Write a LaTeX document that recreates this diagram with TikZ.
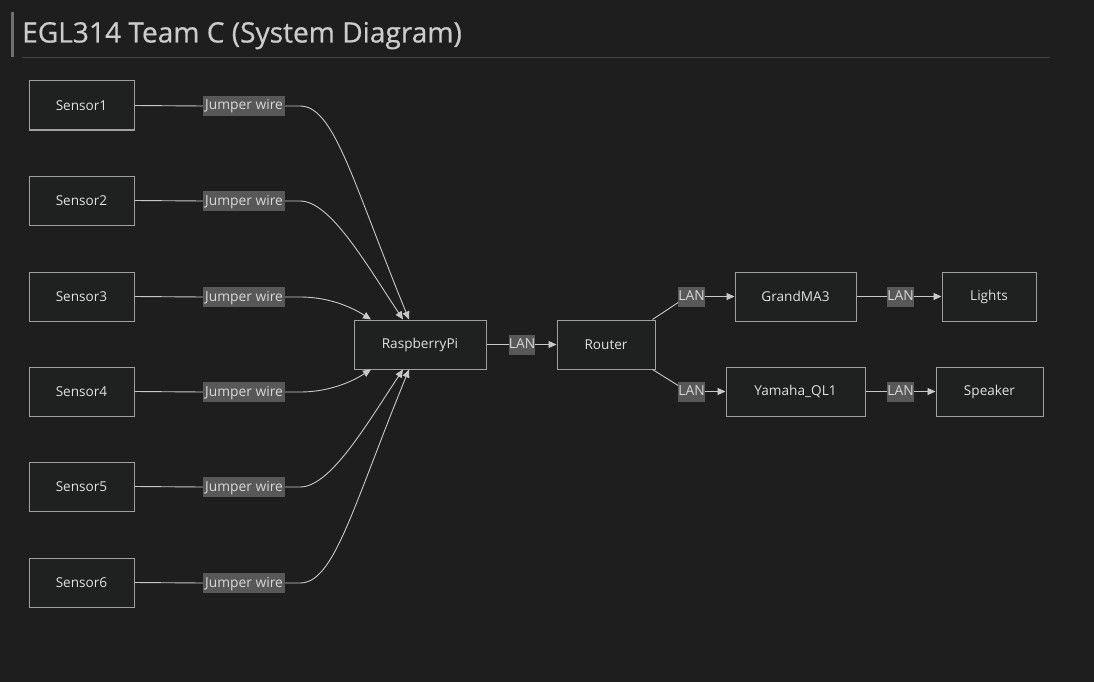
\documentclass[tikz,border=0pt]{standalone}
\usepackage{fontspec}
\setmainfont{Open Sans}
\newfontfamily\titlefont[FakeBold=0.6]{Open Sans}
\usetikzlibrary{arrows.meta,calc}
\definecolor{bg}{HTML}{1E1E1E}
\definecolor{nodefill}{HTML}{1F2020}
\definecolor{nodeborder}{HTML}{A0A0A0}
\definecolor{nodetext}{HTML}{E0E0E0}
\definecolor{lblfill}{HTML}{585858}
\definecolor{lbltext}{HTML}{D8D8D8}
\definecolor{edgecol}{HTML}{C8C8C8}
\definecolor{titlecol}{HTML}{CCCCCC}
\definecolor{barcol}{HTML}{707070}
\definecolor{rulecol}{HTML}{454545}
\begin{document}
\begin{tikzpicture}[x=1pt,y=-1pt,
  box/.style={draw=nodeborder, fill=nodefill, line width=1pt, inner sep=0pt,
    minimum height=49pt, text=nodetext, font=\fontsize{13.6}{15}\selectfont},
  lbl/.style={fill=lblfill, text=lbltext, inner sep=0pt, minimum height=20pt,
    text height=10pt, text depth=2pt, font=\fontsize{13.8}{15}\selectfont},
  edge/.style={draw=edgecol, line width=0.9pt},
  arr/.style={edge, -{Triangle[length=8pt,width=7pt]}}]
\fill[bg] (0,0) rectangle (1094,682);
\useasboundingbox (0,0) rectangle (1094,682);
% title
\fill[barcol] (10.5,12) rectangle (13.5,57);
\draw[rulecol, line width=1pt] (22,57.5) -- (1050,57.5);
\node[anchor=base west, inner sep=0pt, text=titlecol, font=\titlefont\fontsize{28.1}{32}\selectfont] (title) at (22,42.5) {EGL314 Team C (System Diagram)};
% nodes
\node[box, minimum width=105pt] (s1) at (81.5,105.5) {Sensor1};
\node[box, minimum width=105pt] (s2) at (81.5,200.5) {Sensor2};
\node[box, minimum width=105pt] (s3) at (81.5,296.5) {Sensor3};
\node[box, minimum width=105pt] (s4) at (81.5,391.5) {Sensor4};
\node[box, minimum width=105pt] (s5) at (81.5,486.5) {Sensor5};
\node[box, minimum width=105pt] (s6) at (81.5,582.5) {Sensor6};
\node[box, minimum width=132pt] (rpi) at (420,344.5) {RaspberryPi};
\node[box, minimum width=98pt] (router) at (606,344.5) {Router};
\node[box, minimum width=121pt] (gma) at (795.5,296.5) {GrandMA3};
\node[box, minimum width=94pt] (lights) at (989,296.5) {Lights};
\node[box, minimum width=139pt] (yam) at (795.5,391.5) {Yamaha\_QL1};
\node[box, minimum width=107pt] (spk) at (989.5,391.5) {Speaker};
% labels
\node[lbl, minimum width=82pt] (j1) at (244,106) {Jumper wire};
\node[lbl, minimum width=82pt] (j2) at (244,201) {Jumper wire};
\node[lbl, minimum width=82pt] (j3) at (244,297) {Jumper wire};
\node[lbl, minimum width=82pt] (j4) at (244,392) {Jumper wire};
\node[lbl, minimum width=82pt] (j5) at (244,487) {Jumper wire};
\node[lbl, minimum width=82pt] (j6) at (244,583) {Jumper wire};
\node[lbl, minimum width=26pt] (l1) at (522,344.5) {LAN};
\node[lbl, minimum width=26pt] (l2) at (691.5,296.5) {LAN};
\node[lbl, minimum width=26pt] (l3) at (691.5,391.5) {LAN};
\node[lbl, minimum width=26pt] (l4) at (900.5,296.5) {LAN};
\node[lbl, minimum width=26pt] (l5) at (900.5,391.5) {LAN};
% sensor edges
\draw[edge] (s1.east) -- (j1.west);
\draw[edge] (s2.east) -- (j2.west);
\draw[edge] (s3.east) -- (j3.west);
\draw[edge] (s4.east) -- (j4.west);
\draw[edge] (s5.east) -- (j5.west);
\draw[edge] (s6.east) -- (j6.west);
\draw[arr] (j1.east) -- (300,106) .. controls (334,106) and (352,180) .. ([xshift=-11pt]rpi.north);
\draw[arr] (j2.east) -- (300,201) .. controls (330,201) and (365,262) .. ([xshift=-17pt]rpi.north);
\draw[arr] (j3.east) -- (300,297) .. controls (322,297) and (345,303) .. ([xshift=-49pt]rpi.north);
\draw[arr] (j4.east) -- (300,392) .. controls (322,392) and (345,386) .. ([xshift=-49pt]rpi.south);
\draw[arr] (j5.east) -- (300,487) .. controls (330,487) and (365,427) .. ([xshift=-17pt]rpi.south);
\draw[arr] (j6.east) -- (300,583) .. controls (334,583) and (352,509) .. ([xshift=-11pt]rpi.south);
% network edges
\draw[edge] (rpi.east) -- (l1.west);
\draw[arr] (l1.east) -- (router.west);
\draw[edge] ([xshift=-3pt]router.north east) -- ($(l2.west)+(0,6)$);
\draw[arr] (l2.east) -- (gma.west);
\draw[edge] ([xshift=-3pt]router.south east) -- ($(l3.west)+(0,-6)$);
\draw[arr] (l3.east) -- (yam.west);
\draw[edge] (gma.east) -- (l4.west);
\draw[arr] (l4.east) -- (lights.west);
\draw[edge] (yam.east) -- (l5.west);
\draw[arr] (l5.east) -- (spk.west);
\end{tikzpicture}
\end{document}
